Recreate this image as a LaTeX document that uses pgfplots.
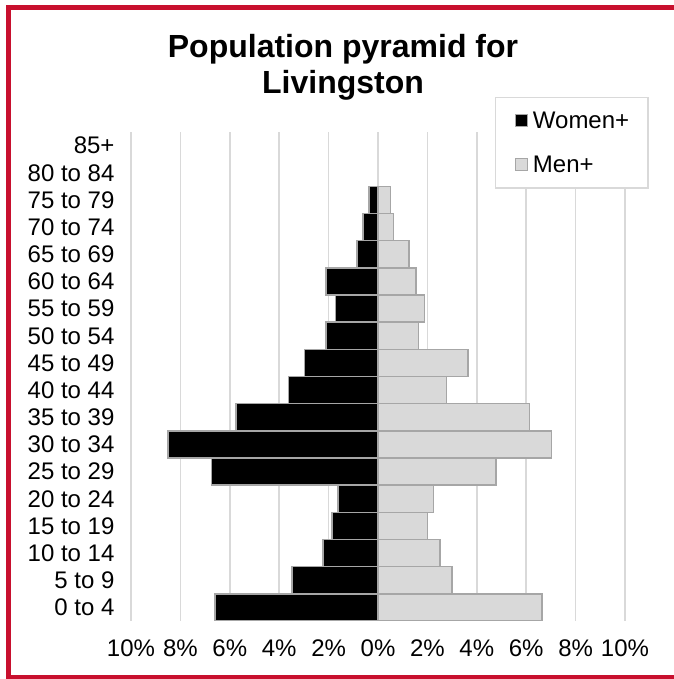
\documentclass[border=0pt]{standalone}
\usepackage{fontspec}
\setmainfont{Liberation Sans}
\usepackage{pgfplots}
\usepackage{pgfplotstable}
\pgfplotsset{compat=1.18}
\definecolor{frame}{HTML}{C8102E}
\definecolor{gridc}{HTML}{D9D9D9}
\definecolor{menfill}{HTML}{D9D9D9}
\definecolor{edge}{HTML}{A6A6A6}

\pgfplotstableread{
idx women men
0 -6.60 6.64
1 -3.48 3.00
2 -2.23 2.50
3 -1.86 2.00
4 -1.61 2.25
5 -6.75 4.78
6 -8.51 7.03
7 -5.74 6.14
8 -3.62 2.77
9 -2.98 3.64
10 -2.10 1.63
11 -1.73 1.89
12 -2.10 1.53
13 -0.85 1.26
14 -0.61 0.62
15 -0.36 0.50
}\pyr

\begin{document}
\begin{tikzpicture}
\useasboundingbox (0,0) rectangle (673pt,679pt);
\fill[white] (0,0) rectangle (673pt,679pt);
\draw[frame, line width=5pt, line join=miter] (8pt,1.2pt) rectangle (700pt,671.5pt);
\node[font=\fontsize{32}{36}\selectfont\bfseries, anchor=base] at (343pt,621pt) {Population pyramid for};
\node[font=\fontsize{32}{36}\selectfont\bfseries, anchor=base] at (343pt,585pt) {Livingston};
\begin{axis}[
  at={(131pt,58pt)}, anchor=south west,
  scale only axis, width=494pt, height=489pt,
  xmin=-10, xmax=10, ymin=-0.5, ymax=17.5,
  xbar,
  axis line style={draw=none},
  major tick length=0pt,
  xtick={-10,-8,...,10},
  xticklabels={10\%,8\%,6\%,4\%,2\%,0\%,2\%,4\%,6\%,8\%,10\%},
  ytick={0,...,17},
  yticklabels={0 to 4,5 to 9,10 to 14,15 to 19,20 to 24,25 to 29,30 to 34,35 to 39,40 to 44,45 to 49,50 to 54,55 to 59,60 to 64,65 to 69,70 to 74,75 to 79,80 to 84,85+},
  ticklabel style={font=\fontsize{24}{28}\selectfont},
  xticklabel style={yshift=-15pt},
  yticklabel style={xshift=-13pt},
  xmajorgrids, ymajorgrids=false,
  major grid style={gridc, line width=1.5pt},
  legend cell align=left,
  legend style={at={(axis description cs:0.7368,1.0716)}, anchor=north west,
    draw=gridc, line width=1.5pt, font=\fontsize{24}{28}\selectfont,
    inner xsep=19pt, inner ysep=14pt, row sep=26pt, column sep=5pt,
    nodes={inner sep=0pt}},
  legend image code/.code={\draw[#1, line width=1.2pt] (0pt,-6pt) rectangle (12pt,6pt);},
]
\addplot[xbar, bar shift=0pt, bar width=1, fill=black, draw=edge, line width=1.5pt] table[x=women, y=idx] {\pyr};
\addlegendentry{Women+}
\addplot[xbar, bar shift=0pt, bar width=1, fill=menfill, draw=edge, line width=1.5pt] table[x=men, y=idx] {\pyr};
\addlegendentry{Men+}
\end{axis}
\end{tikzpicture}
\end{document}
